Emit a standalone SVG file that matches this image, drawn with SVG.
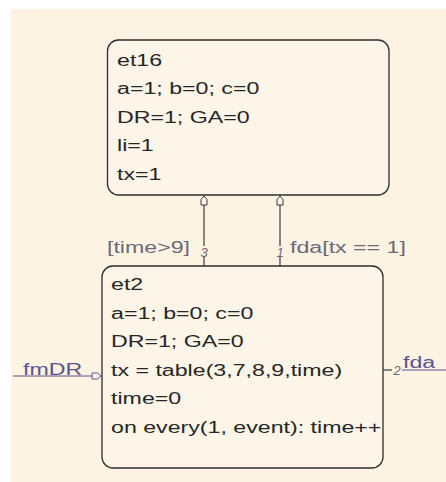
<svg xmlns="http://www.w3.org/2000/svg" width="446" height="482" viewBox="0 0 446 482">
<style>
.bg{fill:#fdf3e3}
.state{fill:#fdf5e8;stroke:#2e2e2e;stroke-width:1.3}
.st{font-family:"Liberation Sans",Arial,sans-serif;font-size:17.3px;fill:#262626}
.lbl{font-family:"Liberation Sans",Arial,sans-serif;font-size:17.3px;fill:#6a6a78}
.num{font-family:"Liberation Sans",Arial,sans-serif;font-size:13px;fill:#6a6a78;font-style:italic;text-anchor:middle}
.io{font-family:"Liberation Sans",Arial,sans-serif;font-size:17.3px;fill:#5c5390}
.tr{stroke:#3a3a3a;stroke-width:1.2;fill:none}
.iol{stroke:#5c5390;stroke-width:1.2;fill:none}
.gap{fill:#fdf3e3}
</style>
<defs>
<marker id="ah" markerUnits="userSpaceOnUse" markerWidth="12" markerHeight="10" refX="10" refY="5" orient="auto">
<path d="M10,5 L6.5,2 L1,2 L1,8 L6.5,8 Z" fill="#fdf5e8" stroke="#3a3a3a" stroke-width="1"/>
</marker>
<marker id="ahio" markerUnits="userSpaceOnUse" markerWidth="12" markerHeight="10" refX="10" refY="5" orient="auto">
<path d="M10,5 L6.5,2 L1,2 L1,8 L6.5,8 Z" fill="#fdf5e8" stroke="#5c5390" stroke-width="1"/>
</marker>
</defs>
<rect x="0" y="0" width="446" height="482" fill="#ffffff"/>
<rect class="bg" x="11" y="9" width="435" height="473"/>

<g id="connectors">
<line class="tr" x1="204" y1="266" x2="204" y2="196" marker-end="url(#ah)"/>
<line class="tr" x1="280" y1="266" x2="280" y2="196" marker-end="url(#ah)"/>
<line class="iol" x1="13" y1="376" x2="101" y2="376" marker-end="url(#ahio)"/>
<line class="tr" x1="383" y1="370" x2="392" y2="370"/>
<line class="iol" x1="402" y1="370" x2="446" y2="370"/>
<g transform="translate(107,253) scale(1.34,1)"><text class="lbl" x="0" y="0">[time&gt;9]</text></g>
<rect class="gap" x="200" y="246" width="8" height="11"/>
<text class="num" x="204" y="257">3</text>
<rect class="gap" x="276" y="246" width="8" height="11"/>
<text class="num" x="280" y="257">1</text>
<g transform="translate(290,253) scale(1.34,1)"><text class="lbl" x="0" y="0">fda[tx == 1]</text></g>
<g transform="translate(23,375) scale(1.34,1)"><text class="io" x="0" y="0">fmDR</text></g>
<text class="num" x="397" y="375">2</text>
<g transform="translate(403,368) scale(1.34,1)"><text class="io" x="0" y="0">fda</text></g>
</g>

<g id="et16">
<rect class="state" x="107.5" y="40" width="281.5" height="155" rx="11" ry="11"/>
<g transform="translate(117,0) scale(1.34,1)">
<text class="st" x="0" y="66">et16</text>
<text class="st" x="0" y="94.5">a=1; b=0; c=0</text>
<text class="st" x="0" y="123">DR=1; GA=0</text>
<text class="st" x="0" y="151.5">li=1</text>
<text class="st" x="0" y="180">tx=1</text>
</g>
</g>

<g id="et2">
<rect class="state" x="102" y="266" width="281" height="202" rx="11" ry="11"/>
<g transform="translate(111,0) scale(1.34,1)">
<text class="st" x="0" y="290">et2</text>
<text class="st" x="0" y="318.6">a=1; b=0; c=0</text>
<text class="st" x="0" y="347.2">DR=1; GA=0</text>
<text class="st" x="0" y="375.8">tx = table(3,7,8,9,time)</text>
<text class="st" x="0" y="404.4">time=0</text>
<text class="st" x="0" y="433">on every(1, event): time++</text>
</g>
</g>
</svg>
